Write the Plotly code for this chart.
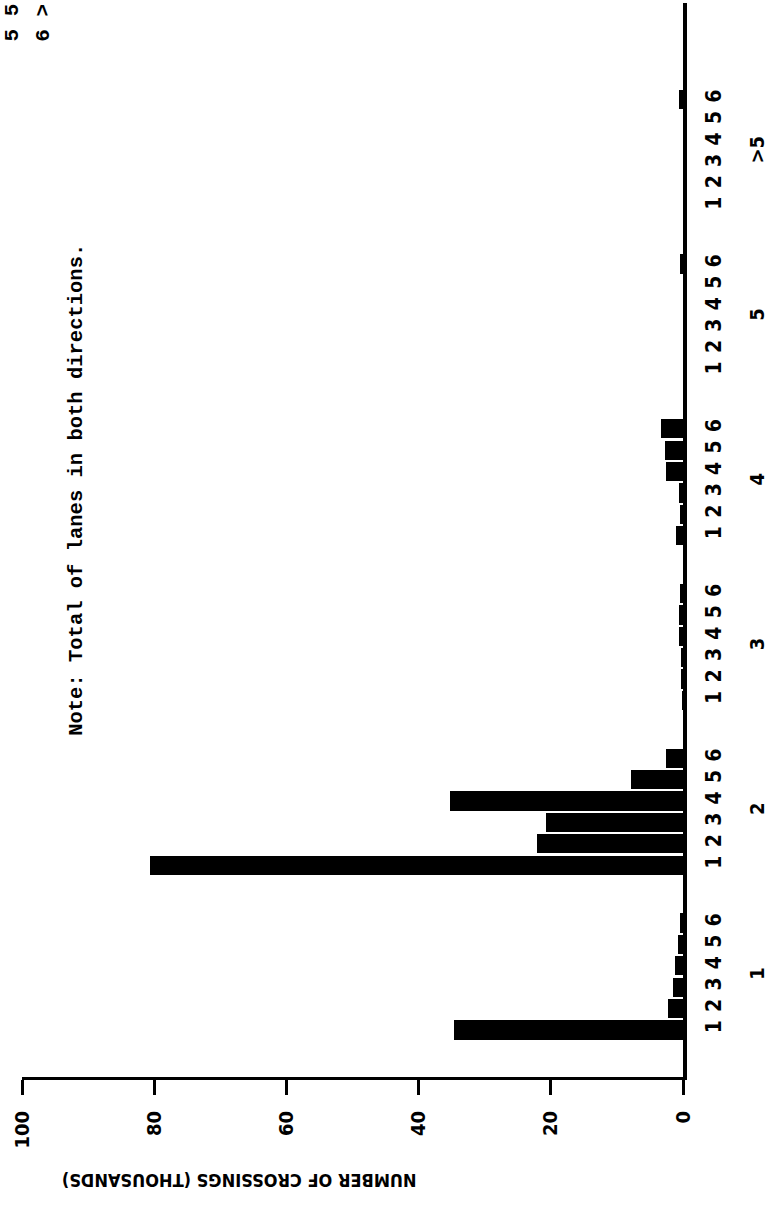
import plotly.graph_objects as go

# ---- data read from the (rotated) reference ----
groups = ["1", "2", "3", "4", "5", ">5"]
sub_labels = ["1", "2", "3", "4", "5", "6"]

crossings_g1 = [34.7, 2.3, 1.5, 1.2, 0.7, 0.4]
crossings_g2 = [80.6, 22.1, 20.8, 35.2, 7.9, 2.6]
crossings_g3 = [0.1, 0.2, 0.2, 0.6, 0.6, 0.4]
crossings_g4 = [1.0, 0.4, 0.6, 2.6, 2.7, 3.4]
crossings_g5 = [0.0, 0.0, 0.0, 0.0, 0.0, 0.5]
crossings_g6 = [0.0, 0.0, 0.0, 0.0, 0.0, 0.6]

value_ticks = [0, 20, 40, 60, 80, 100]
value_tick_text = ["0", "20", "40", "60", "80", "100"]

note_text = "Note: Total of lanes in both directions."
axis_title = "NUMBER OF CROSSINGS (THOUSANDS)"

# ---- build positions (category slots) ----
GROUP_STEP = 7.7
all_values = [crossings_g1, crossings_g2, crossings_g3,
              crossings_g4, crossings_g5, crossings_g6]
pos, vals, sub_text = [], [], []
for g, series in enumerate(all_values):
    for s, v in enumerate(series):
        pos.append(g * GROUP_STEP + s)
        vals.append(v)
        sub_text.append(sub_labels[s])
group_centers = [g * GROUP_STEP + 2.5 for g in range(len(groups))]

NARROW = "Liberation Sans Narrow, DejaVu Sans Condensed, Arial Narrow, sans-serif"
MONO = "Liberation Mono, Courier New, DejaVu Sans Mono, monospace"

fig = go.Figure()
fig.add_trace(go.Bar(
    x=vals, y=pos, orientation="h", width=0.9,
    marker=dict(color="black", line=dict(width=0)),
    hoverinfo="skip", showlegend=False,
))
# helper (invisible) trace so the group-label axis is drawn
fig.add_trace(go.Scatter(
    x=[0] * len(group_centers), y=group_centers, yaxis="y2",
    mode="markers", marker=dict(opacity=0), hoverinfo="skip", showlegend=False,
))

yrange = [-2.2, 48.0]

fig.update_layout(
    width=772, height=1206,
    margin=dict(l=22, r=85, t=3, b=129),
    paper_bgcolor="white", plot_bgcolor="white",
    bargap=0,
    xaxis=dict(
        range=[100, 0], tickvals=value_ticks, ticktext=value_tick_text,
        tickangle=-90, ticks="outside", ticklen=15, tickwidth=3, tickcolor="black",
        ticklabelstandoff=8,
        showline=True, linewidth=3, linecolor="black",
        showgrid=False, zeroline=False,
        tickfont=dict(family=NARROW, size=20, color="black", weight="bold"),
    ),
    yaxis=dict(
        range=yrange, side="right", tickvals=pos, ticktext=sub_text,
        tickangle=-90, ticks="", ticklabelstandoff=9,
        showline=True, linewidth=4, linecolor="black",
        showgrid=False, zeroline=False,
        tickfont=dict(family=NARROW, size=21, color="black", weight="bold"),
    ),
    yaxis2=dict(
        range=yrange, overlaying="y", side="right", anchor="x",
        tickvals=group_centers, ticktext=groups,
        tickangle=-90, ticks="", ticklabelstandoff=60,
        showline=False, showgrid=False, zeroline=False,
        tickfont=dict(family=NARROW, size=20, color="black", weight="bold"),
    ),
)

fig.add_annotation(
    text=note_text, xref="paper", yref="paper", x=0.083, y=0.5466,
    xanchor="center", yanchor="middle", textangle=-90, showarrow=False,
    font=dict(family=MONO, size=20.5, color="black", weight="bold"),
)
fig.add_annotation(
    text=axis_title, xref="paper", yref="paper", x=0.328, y=-0.0959,
    xanchor="center", yanchor="middle", textangle=180, showarrow=False,
    font=dict(family=NARROW, size=18, color="black", weight="bold"),
)
# fragments of page text near the top-left corner
fig.add_annotation(
    text="5 5", xref="paper", yref="paper", x=-0.014, y=0.962,
    xanchor="center", yanchor="bottom", textangle=-90, showarrow=False,
    font=dict(family=MONO, size=21, color="black", weight="bold"),
)
fig.add_annotation(
    text="6 >", xref="paper", yref="paper", x=0.033, y=0.962,
    xanchor="center", yanchor="bottom", textangle=-90, showarrow=False,
    font=dict(family=MONO, size=21, color="black", weight="bold"),
)

fig.write_html(
    "out.html",
    config={"displayModeBar": False},
    post_script="document.body.style.margin='0px';document.body.style.padding='0px';",
)
